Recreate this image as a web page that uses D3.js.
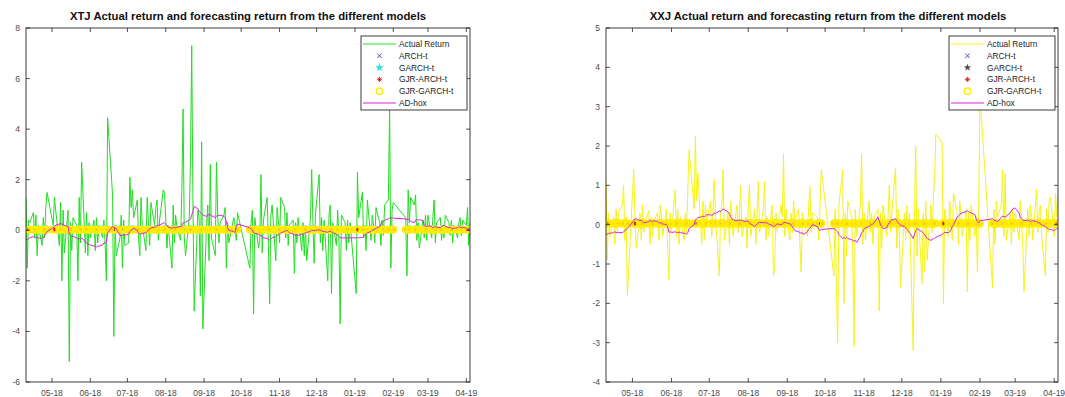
<!DOCTYPE html>
<html>
<head>
<meta charset="utf-8">
<script src="https://cdn.jsdelivr.net/npm/d3@7"></script>
<style>
  body { margin: 0; background: #fff; }
  svg { display: block; font-family: "Liberation Sans", Arial, Helvetica, sans-serif; }
</style>
</head>
<body>
<svg id="chart" width="1065" height="397"></svg>
<script>
// trading calendar (Shanghai/Shenzhen), 2018-04-10 .. 2019-04-04
var startDay = "2018-04-10", endDay = "2019-04-04";
var holidays = ["2018-04-30", "2018-05-01", "2018-06-18", "2018-09-24",
    "2018-10-01", "2018-10-02", "2018-10-03", "2018-10-04", "2018-10-05",
    "2018-12-31", "2019-01-01",
    "2019-02-04", "2019-02-05", "2019-02-06", "2019-02-07", "2019-02-08"];

var modelNames = ["ARCH-t", "GARCH-t", "GJR-ARCH-t", "GJR-GARCH-t"];
// mean-equation return forecasts (flat) of each model
var xtjModelForecast = [0.03, 0.04, 0.02, 0.03];
var xxjModelForecast = [0.03, 0.04, 0.02, 0.03];

// XTJ daily returns, one line per month
var xtjActual = [
    1.3, -1.5, 0.4, 0.3, 0.7, -0.3, 0.6, -1.0, 0.2, -0.6, 0.5, -0.3, 0.9, 1.5,
    0.2, 1.3, 0.8, -0.6, 1.1, -2.0, 0.8, -0.9, 0.8, -5.2, 0.3, -0.8, 0.5, 0.2, -2.0, 1.3, -0.5, 2.7, -0.9, 0.7, -1.0, 0.3,
    -0.3, 0.4, -0.8, 0.5, -0.5, 0.2, -0.3, 0.4, -0.6, -2.0, 4.45, 1.4, -4.2, 0.2, -1.0, -0.3, 0.6, -1.5, 0.4, -0.6,
    -0.5, 2.1, 0.9, 1.6, 0.5, 1.2, -0.3, -1.0, 1.3, 0.2, -0.8, 1.3, 0.3, -0.6, 1.1, 0.2, 0.9, 1.2, -0.4, 0.4, 1.6, 1.5,
    0.4, -0.7, 0.2, -1.5, 1.0, -0.5, 0.6, 0.1, -0.4, 1.6, 4.8, -0.3, -1.0, 0.5, 2.8, 7.3, 1.0, -3.2, 0.8, 0.5, -2.6, 3.5, -3.9,
    0.2, 1.0, -1.2, 2.6, -0.3, -1.0, 2.7, 0.6, -0.5, 0.3, 0.6, 0.9, -1.5, 0.3, -0.5, 0.5, 0.2, -0.4, 0.7,
    -1.5, 0.3, 0.8, -3.3, 0.5, -0.7, -0.4, 2.2, -0.9, 0.4, 1.3, -0.6, -2.9, 0.6, 1.0, -1.2, 0.9, 0.4,
    -0.5, 1.3, 0.9, -0.3, 0.7, -0.6, 0.2, 0.4, -1.7, 0.3, -0.5, 0.5, -0.8, 0.3, -1.0, 0.1, -1.2, 0.5, 2.4, 0.3, -1.3, 0.6,
    2.2, -0.5, 0.5, -0.8, 0.4, -2.0, 0.6, 1.0, -2.5, 0.3, -0.6, 0.8, -0.3, -3.7, 0.6, 0.3, -0.8, 0.4, -0.5, 0.3,
    -2.5, 2.3, 0.5, 1.5, -0.3, 0.2, -0.8, 1.2, -0.4, 0.6, 0.2, -0.5, 0.9, 0.3, -0.6, 0.4, -0.2, 1.0, 1.2, 4.9, -1.5, 0.8,
    1.1, 0.5, -1.8, 1.6, 0.3, 1.3, 1.0, 1.4, -0.4, 0.3, -0.7, 0.4, -0.3, 0.6, -0.4,
    0.6, -0.3, 0.5, 1.2, -0.5, 0.3, 0.5, -0.4, 0.2, -0.3, 0.6, 0.3, -0.2, 0.4, -0.5, 0.2, -0.3, 0.3, 0.5, -0.2, 0.4,
    0.2, 0.9, -0.6, 0.3
];

var xtjAdhox = [
    -0.35, -0.38, -0.33, -0.3, -0.25, -0.28, -0.3, -0.28, -0.3, -0.32, -0.3, -0.2, -0.12, -0.05,
    0.1, 0.15, 0.2, 0.25, 0.27, 0.25, 0.22, 0.2, 0.15, -0.15, -0.22, -0.25, -0.24, -0.3, -0.35, -0.32, -0.38, -0.3, -0.45, -0.5, -0.55, -0.55,
    -0.58, -0.62, -0.65, -0.65, -0.62, -0.63, -0.58, -0.5, -0.5, -0.48, -0.1, 0.15, 0.1, 0.12, 0.05, -0.2, -0.22, -0.2, -0.18, -0.2,
    -0.15, -0.05, 0.0, 0.05, 0.08, 0.0, -0.1, -0.15, -0.15, -0.12, -0.1, -0.05, 0.0, 0.05, 0.1, 0.12, 0.15, 0.18, 0.2, 0.2, 0.28, 0.3,
    0.25, 0.2, 0.12, 0.08, 0.1, 0.12, 0.1, 0.12, 0.15, 0.18, 0.3, 0.3, 0.32, 0.4, 0.45, 0.6, 0.75, 0.95, 0.85, 0.75, 0.7, 0.65, 0.6,
    0.55, 0.62, 0.6, 0.62, 0.58, 0.5, 0.55, 0.6, 0.58, 0.6, 0.55, 0.5, 0.35, 0.1, 0.0, -0.05, -0.1, 0.15, 0.25,
    0.1, 0.05, 0.0, -0.1, -0.12, -0.15, -0.2, -0.2, -0.28, -0.3, -0.32, -0.35, -0.38, -0.35, -0.3, -0.25, -0.2, -0.18,
    -0.15, -0.1, -0.05, -0.02, 0.0, -0.05, -0.1, -0.15, -0.18, -0.2, -0.18, -0.2, -0.15, -0.15, -0.12, -0.1, -0.08, -0.05, 0.0, 0.0, -0.02, 0.0,
    0.02, 0.0, -0.02, -0.05, -0.05, -0.08, -0.05, -0.03, -0.08, -0.1, -0.15, -0.2, -0.25, -0.3, -0.3, -0.3, -0.32, -0.3, -0.3, -0.3,
    -0.3, -0.28, -0.3, -0.28, -0.25, -0.2, -0.15, -0.1, -0.05, 0.0, 0.02, 0.05, 0.08, 0.15, 0.25, 0.35, 0.35, 0.4, 0.45, 0.5, 0.48, 0.5,
    0.48, 0.45, 0.42, 0.45, 0.4, 0.35, 0.3, 0.4, 0.42, 0.4, 0.42, 0.38, 0.2, 0.15, 0.15,
    0.18, 0.15, 0.1, 0.12, 0.15, 0.12, 0.1, 0.15, 0.18, 0.2, 0.15, 0.1, 0.12, 0.08, 0.05, 0.08, 0.1, 0.15, 0.12, 0.1, 0.12,
    0.08, 0.05, 0.03, 0.02
];

// XXJ daily returns
var xxjActual = [
    1.1, -0.9, 0.3, -0.3, 0.2, -0.5, 0.4, -0.2, 0.3, 0.5, 1.0, -0.4, 0.2, -1.8,
    1.4, 0.2, -0.6, 0.3, -0.4, 0.5, -0.2, 0.1, 0.35, -0.5, 0.2, -0.3, 0.1, 0.3, -0.4, 0.5, 0.2, -0.3, 0.4, -0.6, -1.4, 0.3,
    -0.2, 0.9, -0.3, 0.4, -0.5, 0.2, -0.4, 0.3, -0.2, 0.9, 1.9, 0.4, 2.25, 0.6, 1.3, -0.5, 0.6, -0.4, 0.5, 0.1,
    0.6, -0.3, 0.4, 1.15, 0.2, -1.3, 0.3, 0.5, 1.4, -0.4, 0.3, -0.5, 0.6, 0.2, -0.3, 0.5, -0.2, 0.3, 1.0, -0.3, 0.2, -0.6,
    0.5, 1.0, -0.3, 0.4, -0.5, 0.3, 1.1, -0.2, 0.4, 1.1, -0.4, 0.2, -0.3, 0.5, -1.3, -1.1, 0.3, -0.2, 0.5, 0.2, 1.8, -0.3, 0.4,
    -0.4, 0.3, -0.2, 0.6, 0.1, 0.4, -0.5, -1.2, 0.3, 0.1, -0.3, 0.5, 0.95, -0.2, 0.3, 0.2, -0.4, 0.5, 1.4,
    -1.3, 0.4, -1.6, -3.0, 0.5, 1.4, -2.0, 0.3, -0.8, 0.6, 0.2, -0.7, -3.1, 0.4, -0.3, 0.5, 1.8, -0.5,
    0.3, -0.4, 0.6, -0.2, 0.3, -0.5, 0.2, 0.4, -2.2, 0.3, -0.6, 0.5, -0.3, 0.2, 1.0, -0.2, 0.3, 1.45, -0.6, 0.4, -0.3, -1.6,
    0.3, -0.4, 0.5, -0.2, 0.3, -3.2, 0.2, 2.0, -0.8, 0.4, -1.5, 0.3, -1.2, 0.6, -0.9, 0.5, -0.2, 0.7, 1.2, 2.3,
    2.1, -2.0, 0.4, -0.3, 0.6, 0.2, -0.4, 0.8, 0.3, -0.5, 0.6, 0.2, -0.3, 0.4, -1.7, 0.3, -0.4, 0.5, -0.3, 0.2, -1.2, 0.4,
    3.3, -1.6, 0.4, -0.5, 0.6, 0.2, 0.5, 1.4, -0.3, 1.3, -0.4, 0.3, -0.5, 0.4, -0.2,
    0.3, -0.4, 0.6, 0.2, -0.5, -1.7, 0.4, -0.3, 0.5, 0.2, -0.4, 0.9, -0.2, 0.3, 0.5, -0.3, -1.3, 0.4, -0.2, 0.6, 0.7,
    -0.3, 0.8, 0.2, 0.8
];

var xxjAdhox = [
    -0.25, -0.24, -0.22, -0.22, -0.2, -0.18, -0.2, -0.2, -0.2, -0.2, -0.18, -0.15, -0.12, -0.1,
    0.1, 0.15, 0.15, 0.1, 0.12, 0.08, 0.05, 0.05, 0.08, 0.1, 0.1, 0.08, 0.1, 0.08, 0.05, 0.04, 0.05, 0.02, 0.0, -0.05, -0.2, -0.18,
    -0.2, -0.18, -0.2, -0.2, -0.19, -0.2, -0.22, -0.22, -0.25, -0.2, -0.1, 0.0, 0.12, 0.15, 0.18, 0.2, 0.22, 0.2, 0.22, 0.25,
    0.25, 0.24, 0.25, 0.3, 0.28, 0.35, 0.33, 0.38, 0.4, 0.38, 0.32, 0.28, 0.2, 0.15, 0.12, 0.1, 0.12, 0.1, 0.12, 0.1, 0.08, 0.1,
    0.08, 0.05, 0.02, -0.05, -0.02, 0.02, 0.05, 0.06, 0.05, 0.06, 0.05, 0.04, 0.02, -0.02, -0.05, -0.04, 0.0, 0.02, 0.0, 0.02, 0.05, 0.06, 0.05,
    0.02, 0.0, -0.05, -0.1, -0.15, -0.18, -0.2, -0.22, -0.2, -0.25, -0.18, -0.12, -0.08, -0.05, 0.0, -0.05, -0.12, -0.15, -0.12,
    -0.1, -0.12, -0.15, -0.18, -0.25, -0.35, -0.33, -0.35, -0.32, -0.35, -0.38, -0.4, -0.42, -0.4, -0.45, -0.3, -0.2, -0.18,
    -0.12, -0.08, -0.05, -0.02, 0.0, 0.02, 0.05, 0.2, 0.1, 0.0, -0.05, -0.1, -0.08, 0.0, 0.05, 0.1, 0.12, 0.15, 0.1, 0.05, 0.02, -0.02,
    -0.05, -0.08, -0.12, -0.15, -0.2, -0.35, -0.25, -0.15, -0.1, -0.12, -0.18, -0.22, -0.25, -0.3, -0.35, -0.4, -0.38, -0.36, -0.35, -0.32,
    -0.25, -0.22, -0.2, -0.2, -0.18, -0.12, -0.05, 0.0, 0.2, 0.22, 0.25, 0.3, 0.3, 0.33, 0.35, 0.33, 0.32, 0.3, 0.25, 0.15, 0.08, 0.05,
    0.1, 0.15, 0.12, 0.1, 0.1, 0.08, 0.18, 0.22, 0.2, 0.2, 0.22, 0.3, 0.35, 0.4, 0.42,
    0.42, 0.3, 0.2, 0.15, 0.12, 0.1, 0.12, 0.1, 0.08, 0.1, 0.1, 0.08, 0.05, 0.05, 0.02, 0.0, -0.05, -0.08, -0.1, -0.12, -0.12,
    -0.15, -0.12, -0.1, -0.1
];

var xtjYTicks = [-6, -4, -2, 0, 2, 4, 6, 8];
var xxjYTicks = [-4, -3, -2, -1, 0, 1, 2, 3, 4, 5];

var parseDay = d3.timeParse("%Y-%m-%d");
var fmtDay = d3.timeFormat("%Y-%m-%d");
var holidaySet = new Set(holidays);
var tradingDays = d3.timeDay.range(parseDay(startDay), d3.timeDay.offset(parseDay(endDay), 1))
    .filter(function(d) { return d.getDay() !== 0 && d.getDay() !== 6 && !holidaySet.has(fmtDay(d)); });

var panels = [
    {
        title: "XTJ Actual return and forecasting return from the different models",
        left: 26, right: 470, top: 28, bottom: 382,
        yDomain: [-6, 8], yTicks: xtjYTicks,
        actual: xtjActual, adhox: xtjAdhox, forecast: xtjModelForecast,
        actualColor: "#22dd22", garchColor: "#33dddd", garchShape: "pentagram"
    },
    {
        title: "XXJ Actual return and forecasting return from the different models",
        left: 606, right: 1058, top: 28, bottom: 382,
        yDomain: [-4, 5], yTicks: xxjYTicks,
        actual: xxjActual, adhox: xxjAdhox, forecast: xxjModelForecast,
        actualColor: "#f6f21a", garchColor: "#444444", garchShape: "hexagram"
    }
];

var svg = d3.select("#chart");
var fmtMonth = d3.timeFormat("%m-%y");

function markerPath(shape, s) {
    if (shape === "x") {
        return "M" + (-s) + "," + (-s) + "L" + s + "," + s + "M" + (-s) + "," + s + "L" + s + "," + (-s);
    }
    if (shape === "asterisk") {
        var a = s * 0.7;
        return "M0," + (-s) + "V" + s + "M" + (-s) + ",0H" + s +
            "M" + (-a) + "," + (-a) + "L" + a + "," + a + "M" + (-a) + "," + a + "L" + a + "," + (-a);
    }
    return null;
}

function drawMarker(g, kind, color, garchShape) {
    if (kind === 0) {
        g.append("path").attr("d", markerPath("x", 2.2))
            .attr("stroke", "#3b3bbb").attr("stroke-width", 0.9).attr("fill", "none");
    } else if (kind === 1) {
        g.append("path").attr("d", d3.symbol().type(d3.symbolStar).size(garchShape === "hexagram" ? 12 : 18)())
            .attr("fill", color).attr("stroke", color).attr("stroke-width", 0.4);
    } else if (kind === 2) {
        g.append("path").attr("d", markerPath("asterisk", 2.6))
            .attr("stroke", "#dd2222").attr("stroke-width", 0.9).attr("fill", "none");
    } else {
        g.append("circle").attr("r", 3.2)
            .attr("fill", "none").attr("stroke", "#ffee00").attr("stroke-width", 1.4);
    }
}

panels.forEach(function(p) {
    var x = d3.scaleTime()
        .domain([tradingDays[0], tradingDays[tradingDays.length - 1]])
        .range([p.left, p.right]);
    var y = d3.scaleLinear().domain(p.yDomain).range([p.bottom, p.top]);

    var n = Math.min(tradingDays.length, p.actual.length);
    var rows = d3.range(n).map(function(i) {
        return { date: tradingDays[i], actual: p.actual[i], adhox: p.adhox[i] };
    });

    var g = svg.append("g");

    g.append("defs").append("clipPath").attr("id", "clip" + p.left)
        .append("rect").attr("x", p.left).attr("y", p.top)
        .attr("width", p.right - p.left).attr("height", p.bottom - p.top);

    var plot = g.append("g").attr("clip-path", "url(#clip" + p.left + ")");

    // actual returns
    plot.append("path")
        .datum(rows)
        .attr("fill", "none")
        .attr("stroke", p.actualColor)
        .attr("stroke-width", 1)
        .attr("stroke-linejoin", "round")
        .attr("d", d3.line().x(function(d) { return x(d.date); }).y(function(d) { return y(d.actual); }));

    // model forecasts as markers
    p.forecast.forEach(function(mu, k) {
        var mg = plot.append("g");
        rows.forEach(function(d) {
            var m = mg.append("g").attr("transform", "translate(" + x(d.date) + "," + y(mu) + ")");
            drawMarker(m, k, p.garchColor, p.garchShape);
        });
    });

    // AD-hox
    plot.append("path")
        .datum(rows)
        .attr("fill", "none")
        .attr("stroke", "#dd22dd")
        .attr("stroke-width", 1)
        .attr("d", d3.line().x(function(d) { return x(d.date); }).y(function(d) { return y(d.adhox); }));

    // axes box with inward ticks on all sides
    var months = d3.timeMonth.range(d3.timeMonth.ceil(x.domain()[0]), x.domain()[1]);
    var tickLen = 4;

    g.append("rect")
        .attr("x", p.left).attr("y", p.top)
        .attr("width", p.right - p.left).attr("height", p.bottom - p.top)
        .attr("fill", "none").attr("stroke", "#262626").attr("stroke-width", 0.9);

    var xb = g.append("g").attr("stroke", "#262626").attr("stroke-width", 0.8);
    months.forEach(function(m) {
        xb.append("line").attr("x1", x(m)).attr("x2", x(m)).attr("y1", p.bottom).attr("y2", p.bottom - tickLen);
        xb.append("line").attr("x1", x(m)).attr("x2", x(m)).attr("y1", p.top).attr("y2", p.top + tickLen);
    });
    p.yTicks.forEach(function(t) {
        xb.append("line").attr("x1", p.left).attr("x2", p.left + tickLen).attr("y1", y(t)).attr("y2", y(t));
        xb.append("line").attr("x1", p.right).attr("x2", p.right - tickLen).attr("y1", y(t)).attr("y2", y(t));
    });

    g.selectAll(".xlab").data(months).enter().append("text")
        .attr("x", function(d) { return x(d); })
        .attr("y", p.bottom + 14)
        .attr("text-anchor", "middle")
        .attr("font-size", 8.5)
        .attr("fill", "#4a4a4a")
        .text(function(d) { return fmtMonth(d); });

    g.selectAll(".ylab").data(p.yTicks).enter().append("text")
        .attr("x", p.left - 6)
        .attr("y", function(d) { return y(d) + 3; })
        .attr("text-anchor", "end")
        .attr("font-size", 8.5)
        .attr("fill", "#4a4a4a")
        .text(function(d) { return d; });

    g.append("text")
        .attr("x", p.left + 222)
        .attr("y", 20)
        .attr("text-anchor", "middle")
        .attr("font-size", 11.3)
        .attr("font-weight", "bold")
        .attr("fill", "#111")
        .text(p.title);

    // legend
    var lw = 106, lh = 74;
    var lx = p.right - 3 - lw, ly = p.top + 8;
    var lg = g.append("g").attr("transform", "translate(" + lx + "," + ly + ")");
    lg.append("rect").attr("width", lw).attr("height", lh)
        .attr("fill", "#fff").attr("stroke", "#262626").attr("stroke-width", 0.9);

    var entries = [{ name: "Actual Return", kind: "line", color: p.actualColor }]
        .concat(modelNames.map(function(nm, k) { return { name: nm, kind: k }; }))
        .concat([{ name: "AD-hox", kind: "line", color: "#dd22dd" }]);

    entries.forEach(function(e, i) {
        var ry = 8 + i * 11.8;
        if (e.kind === "line") {
            lg.append("line").attr("x1", 2).attr("x2", 35).attr("y1", ry).attr("y2", ry)
                .attr("stroke", e.color).attr("stroke-width", 1);
        } else {
            drawMarker(lg.append("g").attr("transform", "translate(18.5," + ry + ")"), e.kind, p.garchColor, p.garchShape);
        }
        lg.append("text").attr("x", 38).attr("y", ry + 3)
            .attr("font-size", 8.3).attr("fill", "#222")
            .text(e.name);
    });
});
</script>
</body>
</html>
